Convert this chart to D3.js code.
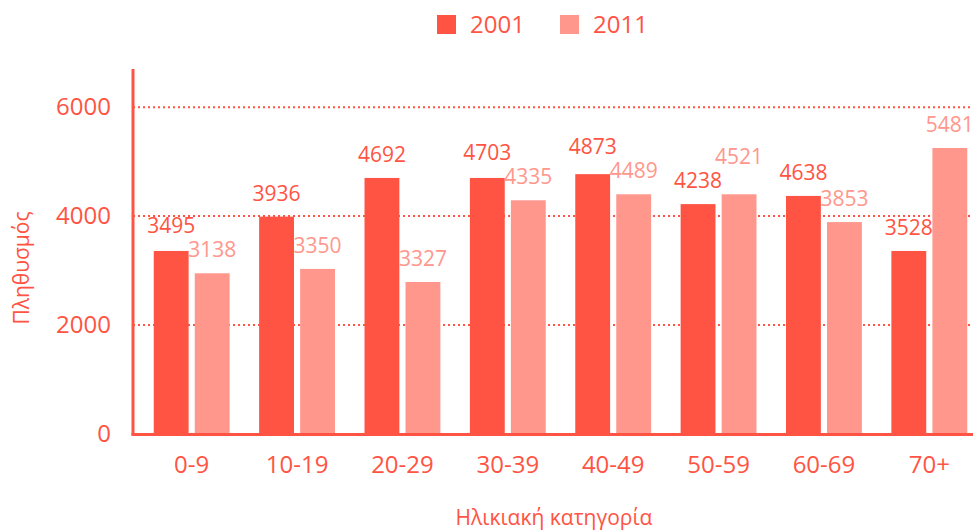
<!DOCTYPE html>
<html>
<head>
<meta charset="utf-8">
<script src="https://cdn.jsdelivr.net/npm/d3@7"></script>
<style>
  body { margin: 0; background: #fff; }
  svg { display: block; font-family: "Open Sans", "Noto Sans", sans-serif; }
</style>
</head>
<body>
<div id="chart"></div>
<script>
  // age groups and the two census series
  var categories = ["0-9", "10-19", "20-29", "30-39", "40-49", "50-59", "60-69", "70+"];
  var seriesNames = ["2001", "2011"];
  // bar heights as drawn
  var values2001 = [3360, 3990, 4700, 4700, 4770, 4220, 4370, 3360];
  var values2011 = [2950, 3030, 2790, 4290, 4400, 4400, 3890, 5250];
  // numbers printed above the bars
  var labels2001 = [3495, 3936, 4692, 4703, 4873, 4238, 4638, 3528];
  var labels2011 = [3138, 3350, 3327, 4335, 4489, 4521, 3853, 5481];
  var yTicks = [0, 2000, 4000, 6000];

  var width = 973, height = 532;
  var red = "#ff5443", pink = "#ff978d";
  var colors = [red, pink];

  var data = categories.map(function(c, i) {
    return { cat: c,
             vals: [ {key: "2001", v: values2001[i], lab: labels2001[i]},
                     {key: "2011", v: values2011[i], lab: labels2011[i]} ] };
  });

  var svg = d3.select("#chart").append("svg")
      .attr("width", width)
      .attr("height", height);

  var axisX = 133, axisBottom = 434;

  var x0 = d3.scaleBand()
      .domain(categories)
      .range([139, 982])
      .paddingInner(0.28)
      .paddingOuter(0.14);

  var x1 = d3.scaleBand()
      .domain(seriesNames)
      .range([0, x0.bandwidth()])
      .paddingInner(0.15);

  var color = d3.scaleOrdinal().domain(seriesNames).range(colors);

  var y = d3.scaleLinear()
      .domain([0, 6700])
      .range([axisBottom, 69]);

  // label baselines: 16px above the bar, nudging the upper one if the pair collides
  data.forEach(function(g) {
    g.vals.forEach(function(d) { d.ly = y(d.v) - 16; });
    var a = g.vals[0], b = g.vals[1];
    if (Math.abs(a.ly - b.ly) < 24) {
      if (a.ly <= b.ly) a.ly = b.ly - 24; else b.ly = a.ly - 24;
    }
  });

  // ---- grid lines ----
  svg.append("g").selectAll("line")
    .data(yTicks.filter(function(t) { return t > 0; }))
    .enter().append("line")
      .attr("x1", axisX).attr("x2", width)
      .attr("y1", function(d) { return y(d); })
      .attr("y2", function(d) { return y(d); })
      .attr("stroke", red)
      .attr("stroke-width", 2)
      .attr("stroke-dasharray", "2,3");

  // ---- y axis ----
  var yAxis = d3.axisLeft(y).tickValues(yTicks).tickFormat(d3.format("d"))
      .tickSize(0).tickPadding(22);
  var gy = svg.append("g")
      .attr("transform", "translate(" + axisX + ",0)")
      .call(yAxis);
  gy.select(".domain").remove();
  gy.selectAll("text")
      .attr("fill", red)
      .style("font-size", "24px")
      .style("font-family", "'Open Sans', sans-serif");

  // ---- bars ----
  var groups = svg.append("g").selectAll("g")
    .data(data)
    .enter().append("g")
      .attr("transform", function(d) { return "translate(" + x0(d.cat) + ",0)"; });

  groups.selectAll("rect")
    .data(function(d) { return d.vals; })
    .enter().append("rect")
      .attr("x", function(d) { return x1(d.key); })
      .attr("width", x1.bandwidth())
      .attr("y", function(d) { return y(d.v); })
      .attr("height", function(d) { return axisBottom - y(d.v); })
      .attr("fill", function(d) { return color(d.key); });

  groups.selectAll("text")
    .data(function(d) { return d.vals; })
    .enter().append("text")
      .attr("x", function(d) { return x1(d.key) + x1.bandwidth() / 2; })
      .attr("y", function(d) { return d.ly; })
      .attr("text-anchor", "middle")
      .attr("fill", function(d) { return color(d.key); })
      .style("font-size", "21px")
      .text(function(d) { return d.lab; });

  // ---- axis lines ----
  svg.append("line")
      .attr("x1", axisX).attr("x2", axisX)
      .attr("y1", 69).attr("y2", axisBottom + 1.5)
      .attr("stroke", red).attr("stroke-width", 3);
  svg.append("line")
      .attr("x1", axisX - 1.5).attr("x2", width)
      .attr("y1", axisBottom + 0.5).attr("y2", axisBottom + 0.5)
      .attr("stroke", red).attr("stroke-width", 3);

  // ---- x axis labels ----
  var xAxis = d3.axisBottom(x0).tickSize(0).tickPadding(22);
  var gx = svg.append("g")
      .attr("transform", "translate(0," + axisBottom + ")")
      .call(xAxis);
  gx.select(".domain").remove();
  gx.selectAll("text")
      .attr("fill", red)
      .style("font-size", "24px")
      .style("font-family", "'Open Sans', sans-serif");

  // ---- axis titles ----
  svg.append("text")
      .attr("x", 554).attr("y", 525)
      .attr("text-anchor", "middle")
      .attr("fill", red)
      .style("font-size", "21px")
      .text("Ηλικιακή κατηγορία");

  svg.append("text")
      .attr("transform", "translate(29,268) rotate(-90)")
      .attr("text-anchor", "middle")
      .attr("fill", red)
      .style("font-size", "21px")
      .text("Πληθυσμός");

  // ---- legend ----
  var legend = svg.append("g").selectAll("g")
    .data(seriesNames)
    .enter().append("g")
      .attr("transform", function(d, i) { return "translate(" + (437 + i * 123) + ",15)"; });
  legend.append("rect")
      .attr("width", 19).attr("height", 19)
      .attr("fill", function(d) { return color(d); });
  legend.append("text")
      .attr("x", 33).attr("y", 18)
      .attr("fill", red)
      .style("font-size", "24px")
      .text(function(d) { return d; });
</script>
</body>
</html>
